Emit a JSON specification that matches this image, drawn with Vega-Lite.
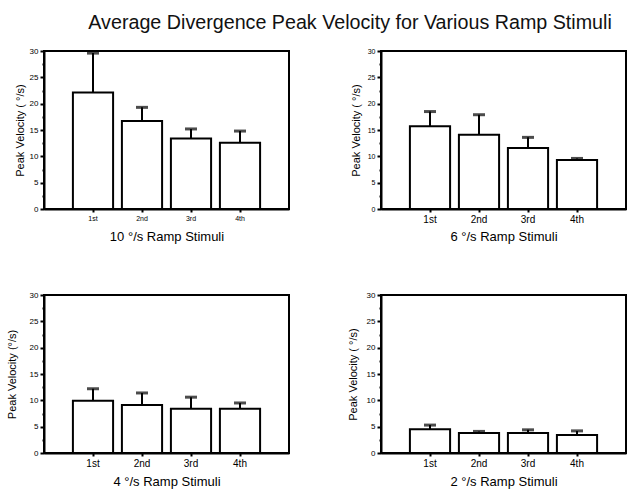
{
  "$schema": "https://vega.github.io/schema/vega-lite/v6.json",
  "padding": {"left": 5, "top": 13, "right": 0, "bottom": 0},
  "background": "white",
  "title": {"text": "Average Divergence Peak Velocity for Various Ramp Stimuli", "fontSize": 19.7, "fontWeight": "normal", "font": "Liberation Sans", "color": "#111", "anchor": "middle", "offset": 13, "dx": 34},
  "config": {
    "font": "Liberation Sans",
    "view": {"stroke": "black", "strokeWidth": 2},
    "axis": {"domainColor": "black", "domainWidth": 2, "tickColor": "black", "labelColor": "black", "titleColor": "black", "grid": false, "titleFontWeight": "normal", "labelFont": "Liberation Sans", "titleFont": "Liberation Sans", "labelOverlap": false},
    "bar": {"fill": "white", "stroke": "black", "strokeWidth": 2}
  },
  "datasets": {
    "rows": [
      {"panel": "10", "trial": "1st", "mean": 22.1, "upper": 29.6},
      {"panel": "10", "trial": "2nd", "mean": 16.7, "upper": 19.3},
      {"panel": "10", "trial": "3rd", "mean": 13.4, "upper": 15.2},
      {"panel": "10", "trial": "4th", "mean": 12.6, "upper": 14.8},
      {"panel": "6", "trial": "1st", "mean": 15.7, "upper": 18.5},
      {"panel": "6", "trial": "2nd", "mean": 14.1, "upper": 17.9},
      {"panel": "6", "trial": "3rd", "mean": 11.6, "upper": 13.6},
      {"panel": "6", "trial": "4th", "mean": 9.3, "upper": 9.6},
      {"panel": "4", "trial": "1st", "mean": 9.9, "upper": 12.2},
      {"panel": "4", "trial": "2nd", "mean": 9.1, "upper": 11.4},
      {"panel": "4", "trial": "3rd", "mean": 8.4, "upper": 10.6},
      {"panel": "4", "trial": "4th", "mean": 8.4, "upper": 9.5},
      {"panel": "2", "trial": "1st", "mean": 4.5, "upper": 5.3},
      {"panel": "2", "trial": "2nd", "mean": 3.8, "upper": 4.1},
      {"panel": "2", "trial": "3rd", "mean": 3.8, "upper": 4.4},
      {"panel": "2", "trial": "4th", "mean": 3.4, "upper": 4.2}
    ]
  },
  "bounds": "flush",
  "columns": 2,
  "spacing": {"column": 92, "row": 86},
  "concat": [
    {
      "width": 245, "height": 158,
      "data": {"name": "rows"},
      "transform": [{"filter": "datum.panel === '10'"}],
      "encoding": {
        "x": {"field": "trial", "type": "nominal", "scale": {"paddingInner": 0.18, "paddingOuter": 0.59}, "axis": {"title": "10 °/s Ramp Stimuli", "titleFontSize": 13, "labelFontSize": 7, "labelAngle": 0, "tickSize": 3, "tickWidth": 2, "labelPadding": 2, "titlePadding": 9}},
        "y": {"field": "mean", "type": "quantitative", "scale": {"domain": [0, 30], "nice": false}, "axis": {"title": "Peak Velocity ( °/s)", "titleFontSize": 11, "labelFontSize": 8, "values": [0, 2.5, 5, 7.5, 10, 12.5, 15, 17.5, 20, 22.5, 25, 27.5, 30], "labelExpr": "datum.value % 5 === 0 ? datum.label : ''", "labelOverlap": false, "ticks": true, "tickSize": {"condition": {"test": "datum.value % 5 === 0", "value": 4}, "value": 2}, "tickWidth": 2, "labelPadding": 2, "titlePadding": 4}}
      },
      "layer": [
        {"mark": {"type": "bar"}},
        {"mark": {"type": "rule", "color": "black", "strokeWidth": 2}, "encoding": {"y2": {"field": "upper"}}},
        {"mark": {"type": "tick", "color": "black", "thickness": 3, "size": 12}, "encoding": {"y": {"field": "upper", "type": "quantitative"}}}
      ]
    },
    {
      "width": 245, "height": 158,
      "data": {"name": "rows"},
      "transform": [{"filter": "datum.panel === '6'"}],
      "encoding": {
        "x": {"field": "trial", "type": "nominal", "scale": {"paddingInner": 0.18, "paddingOuter": 0.59}, "axis": {"title": "6 °/s Ramp Stimuli", "titleFontSize": 13, "labelFontSize": 10, "labelAngle": 0, "tickSize": 3, "tickWidth": 2, "labelPadding": 2, "titlePadding": 6}},
        "y": {"field": "mean", "type": "quantitative", "scale": {"domain": [0, 30], "nice": false}, "axis": {"title": "Peak Velocity ( °/s)", "titleFontSize": 11, "labelFontSize": 7, "values": [0, 2.5, 5, 7.5, 10, 12.5, 15, 17.5, 20, 22.5, 25, 27.5, 30], "labelExpr": "datum.value % 5 === 0 ? datum.label : ''", "labelOverlap": false, "ticks": true, "tickSize": {"condition": {"test": "datum.value % 5 === 0", "value": 4}, "value": 2}, "tickWidth": 2, "labelPadding": 2, "titlePadding": 6}}
      },
      "layer": [
        {"mark": {"type": "bar"}},
        {"mark": {"type": "rule", "color": "black", "strokeWidth": 2}, "encoding": {"y2": {"field": "upper"}}},
        {"mark": {"type": "tick", "color": "black", "thickness": 3, "size": 12}, "encoding": {"y": {"field": "upper", "type": "quantitative"}}}
      ]
    },
    {
      "width": 245, "height": 158,
      "data": {"name": "rows"},
      "transform": [{"filter": "datum.panel === '4'"}],
      "encoding": {
        "x": {"field": "trial", "type": "nominal", "scale": {"paddingInner": 0.18, "paddingOuter": 0.59}, "axis": {"title": "4 °/s Ramp Stimuli", "titleFontSize": 13, "labelFontSize": 10, "labelAngle": 0, "tickSize": 3, "tickWidth": 2, "labelPadding": 2, "titlePadding": 7}},
        "y": {"field": "mean", "type": "quantitative", "scale": {"domain": [0, 30], "nice": false}, "axis": {"title": "Peak Velocity (°/s)", "titleFontSize": 11, "labelFontSize": 8, "values": [0, 2.5, 5, 7.5, 10, 12.5, 15, 17.5, 20, 22.5, 25, 27.5, 30], "labelExpr": "datum.value % 5 === 0 ? datum.label : ''", "labelOverlap": false, "ticks": true, "tickSize": {"condition": {"test": "datum.value % 5 === 0", "value": 4}, "value": 2}, "tickWidth": 2, "labelPadding": 2, "titlePadding": 12}}
      },
      "layer": [
        {"mark": {"type": "bar"}},
        {"mark": {"type": "rule", "color": "black", "strokeWidth": 2}, "encoding": {"y2": {"field": "upper"}}},
        {"mark": {"type": "tick", "color": "black", "thickness": 3, "size": 12}, "encoding": {"y": {"field": "upper", "type": "quantitative"}}}
      ]
    },
    {
      "width": 245, "height": 158,
      "data": {"name": "rows"},
      "transform": [{"filter": "datum.panel === '2'"}],
      "encoding": {
        "x": {"field": "trial", "type": "nominal", "scale": {"paddingInner": 0.18, "paddingOuter": 0.59}, "axis": {"title": "2 °/s Ramp Stimuli", "titleFontSize": 13, "labelFontSize": 10, "labelAngle": 0, "tickSize": 3, "tickWidth": 2, "labelPadding": 2, "titlePadding": 7}},
        "y": {"field": "mean", "type": "quantitative", "scale": {"domain": [0, 30], "nice": false}, "axis": {"title": "Peak Velocity ( °/s)", "titleFontSize": 11, "labelFontSize": 8, "values": [0, 2.5, 5, 7.5, 10, 12.5, 15, 17.5, 20, 22.5, 25, 27.5, 30], "labelExpr": "datum.value % 5 === 0 ? datum.label : ''", "labelOverlap": false, "ticks": true, "tickSize": {"condition": {"test": "datum.value % 5 === 0", "value": 4}, "value": 2}, "tickWidth": 2, "labelPadding": 2, "titlePadding": 8}}
      },
      "layer": [
        {"mark": {"type": "bar"}},
        {"mark": {"type": "rule", "color": "black", "strokeWidth": 2}, "encoding": {"y2": {"field": "upper"}}},
        {"mark": {"type": "tick", "color": "black", "thickness": 3, "size": 12}, "encoding": {"y": {"field": "upper", "type": "quantitative"}}}
      ]
    }
  ]
}
